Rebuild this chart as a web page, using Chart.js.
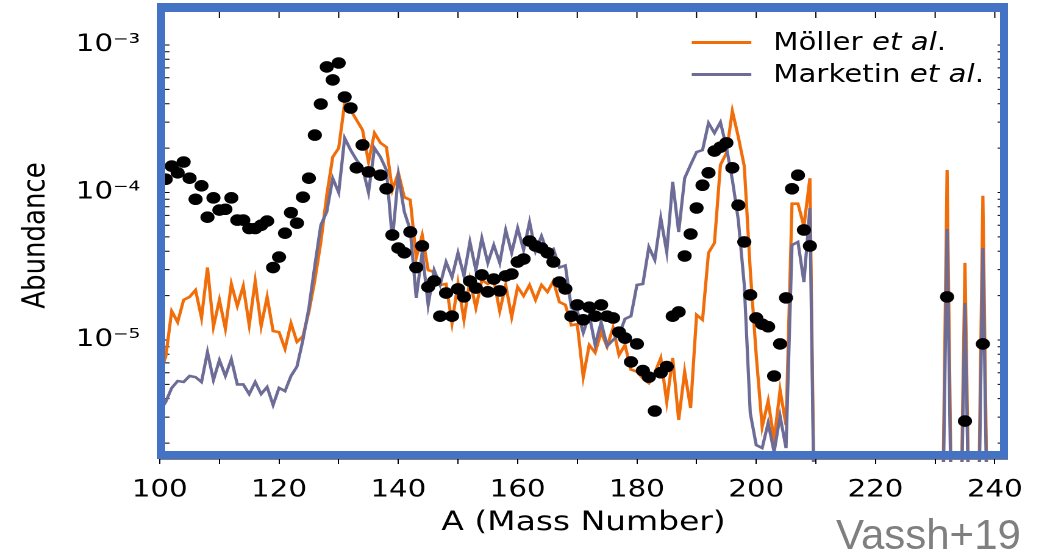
<!DOCTYPE html>
<html>
<head>
<meta charset="utf-8">
<script src="https://cdn.jsdelivr.net/npm/chart.js@4.4.1/dist/chart.umd.min.js"></script>
<style>
  html, body { margin: 0; padding: 0; background: #fff; }
  #page { position: relative; width: 1050px; height: 557px; overflow: hidden; }
  /* the original figure is a bit wider than tall, so the whole plot is stretched sideways */
  #stage { position: absolute; left: 0; top: 0; width: 861px; height: 557px; transform: scaleX(1.2195); transform-origin: 0 0; }
  #legend { position: absolute; left: 567px; top: 26px; font-family: 'DejaVu Sans', sans-serif; font-size: 24px; color: #000; }
  .row { display: flex; align-items: center; height: 32px; white-space: nowrap; }
  .sw { display: inline-block; width: 49px; height: 3px; margin-right: 18px; }
  #frame { position: absolute; left: 157px; top: 3px; width: 851px; height: 456px; box-sizing: border-box; border: 8px solid #4472c4; border-top-width: 9px; }
  #credit { position: absolute; left: 836px; top: 514px; font-family: 'Liberation Sans', sans-serif; font-size: 42px; line-height: 42px; color: #7f7f7f; }
</style>
</head>
<body>
<div id="page">
  <div id="stage">
    <canvas id="abundanceChart" width="861" height="557"></canvas>
    <div id="legend">
      <div class="row"><span class="sw" style="background:#f06d0a"></span><span>Möller <i>et al</i>.</span></div>
      <div class="row"><span class="sw" style="background:#6c6c96"></span><span>Marketin <i>et al</i>.</span></div>
    </div>
  </div>
  <div id="frame"></div>
  <div id="credit">Vassh+19</div>
</div>
<script>
// model curves: one value per mass number starting at A = 100 (0 = nothing made)
const modelStartA = 100;
const mollerAbund = [
  6.0e-6, 7.7e-6, 1.57e-5, 1.32e-5, 1.87e-5, 1.96e-5, 2.18e-5, 1.41e-5, 3.1e-5, 1.23e-5,
  1.87e-5, 1.19e-5, 2.4e-5, 1.7e-5, 2.32e-5, 1.26e-5, 2.51e-5, 1.24e-5, 1.96e-5, 1.15e-5,
  1.13e-5, 8.7e-6, 1.3e-5, 9.7e-6, 1.06e-5, 1.55e-5, 2.55e-5, 4.6e-5, 9.6e-5, 1.74e-4,
  2.0e-4, 4.04e-4, 3.62e-4, 3.1e-4, 2.65e-4, 1.61e-4, 2.53e-4, 2.17e-4, 2.03e-4, 1.04e-4,
  1.36e-4, 9.3e-5, 8.9e-5, 3.6e-5, 5.15e-5, 2.98e-5, 2.89e-5, 2.36e-5, 2.4e-5, 1.3e-5,
  2.43e-5, 1.37e-5, 2.55e-5, 1.65e-5, 2.55e-5, 2.4e-5, 2.55e-5, 1.57e-5, 2.36e-5, 1.43e-5,
  2.29e-5, 1.99e-5, 2.36e-5, 1.87e-5, 2.36e-5, 2.12e-5, 2.51e-5, 1.81e-5, 1.73e-5, 1.26e-5,
  1.28e-5, 5.6e-6, 9.25e-6, 8.2e-6, 1.13e-5, 9.0e-6, 1.21e-5, 7.9e-6, 9.25e-6, 6.3e-6,
  6.1e-6, 5.5e-6, 5.1e-6, 6.0e-6, 7.55e-6, 3.8e-6, 7.55e-6, 2.87e-6, 6.1e-6, 3.46e-6,
  1.48e-5, 1.37e-5, 3.9e-5, 4.55e-5, 1.54e-4, 1.85e-4, 3.57e-4, 2.38e-4, 1.51e-4, 2.98e-5,
  7.9e-6, 2.57e-6, 3.86e-6, 2.1e-6, 4.58e-6, 2.65e-6, 8.4e-5, 8.4e-5, 5.9e-5, 1.25e-4,
  0, 0, 0, 0, 0, 0, 0, 0, 0, 0,
  0, 0, 0, 0, 0, 0, 0, 0, 0, 0,
  0, 0, 1.42e-4, 0, 0, 3.33e-5, 0, 0, 9.5e-5, 0,
  0
];
const marketinAbund = [
  3.3e-6, 3.8e-6, 4.73e-6, 5.27e-6, 5.19e-6, 5.7e-6, 5.6e-6, 5.19e-6, 8.3e-6, 5.35e-6,
  7.3e-6, 5.7e-6, 7.4e-6, 5.0e-6, 5.0e-6, 4.3e-6, 5.19e-6, 4.3e-6, 4.8e-6, 3.62e-6,
  4.73e-6, 4.5e-6, 5.7e-6, 6.6e-6, 1.0e-5, 1.65e-5, 3.2e-5, 6.0e-5, 7.4e-5, 1.25e-4,
  1.0e-4, 2.34e-4, 1.94e-4, 1.66e-4, 1.47e-4, 1.0e-4, 2.0e-4, 1.74e-4, 1.42e-4, 4.76e-5,
  1.31e-4, 7.4e-5, 5.57e-5, 1.93e-5, 3.95e-5, 1.73e-5, 2.98e-5, 2.36e-5, 3.38e-5, 2.67e-5,
  3.9e-5, 2.72e-5, 4.62e-5, 2.98e-5, 4.9e-5, 3.33e-5, 4.4e-5, 3.33e-5, 5.57e-5, 3.9e-5,
  5.74e-5, 4.08e-5, 6.3e-5, 4.0e-5, 5.07e-5, 3.9e-5, 4.14e-5, 3.1e-5, 3.2e-5, 1.65e-5,
  1.57e-5, 1.12e-5, 1.48e-5, 9.25e-6, 1.32e-5, 9.1e-6, 1.0e-5, 1.08e-5, 1.39e-5, 1.45e-5,
  2.36e-5, 2.4e-5, 4.27e-5, 3.49e-5, 6.7e-5, 3.95e-5, 1.18e-4, 5.4e-5, 1.25e-4, 1.54e-4,
  1.88e-4, 1.94e-4, 2.96e-4, 2.53e-4, 3.0e-4, 2.03e-4, 1.22e-4, 6.5e-5, 2.36e-5, 3.2e-6,
  1.94e-6, 1.85e-6, 2.74e-6, 1.74e-6, 3.05e-6, 1.85e-6, 4.4e-5, 4.62e-5, 2.47e-5, 7.85e-5,
  0, 0, 0, 0, 0, 0, 0, 0, 0, 0,
  0, 0, 0, 0, 0, 0, 0, 0, 0, 0,
  0, 0, 5.66e-5, 0, 0, 1.78e-5, 0, 0, 4.2e-5, 0,
  0
];

// solar r-process points, A = 101 ... 209 (null = no point), plus the actinides
const solarStartA = 101;
const solarAbund = [
  1.23e-4, 1.51e-4, 1.36e-4, 1.61e-4, 1.25e-4, 9.0e-5, 1.11e-4, 6.8e-5, 9.2e-5, 7.6e-5,
  7.7e-5, 9.2e-5, 6.5e-5, 6.5e-5, 5.7e-5, 5.7e-5, 6.0e-5, 6.4e-5, 3.1e-5, 3.65e-5,
  5.3e-5, 7.3e-5, 6.2e-5, 9.3e-5, 1.25e-4, 2.45e-4, 3.98e-4, 7.1e-4, 5.8e-4, 7.55e-4,
  4.44e-4, 3.74e-4, 1.47e-4, 2.1e-4, 1.38e-4, null, 1.31e-4, 1.06e-4, 5.15e-5, 4.2e-5,
  3.9e-5, 5.4e-5, 3.1e-5, 4.34e-5, 2.29e-5, 2.51e-5, 1.45e-5, 2.08e-5, 1.45e-5, 2.22e-5,
  1.96e-5, 2.51e-5, 2.25e-5, 2.76e-5, 2.12e-5, 2.59e-5, 2.15e-5, 2.72e-5, 2.8e-5, 3.38e-5,
  3.54e-5, 4.69e-5, 4.34e-5, 4.2e-5, 3.9e-5, 3.38e-5, 2.47e-5, 2.22e-5, 1.45e-5, 1.73e-5,
  1.37e-5, 1.67e-5, 1.45e-5, 1.73e-5, 1.45e-5, 1.41e-5, 1.13e-5, 1.03e-5, 7.1e-6, 9.4e-6,
  6.2e-6, 5.6e-6, 3.3e-6, 6.0e-6, 6.6e-6, 1.45e-5, 1.55e-5, 3.71e-5, 5.23e-5, 7.85e-5,
  1.12e-4, 1.36e-4, 1.91e-4, 2.03e-4, 2.17e-4, 1.47e-4, 8.2e-5, 4.62e-5, 2.02e-5, 1.41e-5,
  1.28e-5, 1.23e-5, 5.7e-6, 9.4e-6, 1.93e-5, 1.06e-4, 1.31e-4, 5.57e-5, 4.34e-5
];
const actinideA = [232, 235, 238];
const actinideAbund = [1.96e-5, 2.82e-6, 9.4e-6];

// axes
const xTicks = [100, 110, 120, 130, 140, 150, 160, 170, 180, 190, 200, 210, 220, 230, 240];
const yTicks = [
  2e-6, 3e-6, 4e-6, 5e-6, 6e-6, 7e-6, 8e-6, 9e-6,
  1e-5, 2e-5, 3e-5, 4e-5, 5e-5, 6e-5, 7e-5, 8e-5, 9e-5,
  1e-4, 2e-4, 3e-4, 4e-4, 5e-4, 6e-4, 7e-4, 8e-4, 9e-4, 1e-3
];
const ZERO_FLOOR = 1e-7; // zeros can't sit on a log axis, push them below the frame

const SUP = { '-': '\u207b', '0': '\u2070', '1': '\u00b9', '2': '\u00b2', '3': '\u00b3',
  '4': '\u2074', '5': '\u2075', '6': '\u2076', '7': '\u2077', '8': '\u2078', '9': '\u2079' };

function modelPoints(vals) {
  return vals.map((v, i) => ({ x: modelStartA + i, y: v > 0 ? v : ZERO_FLOOR }));
}
const solarPoints = solarAbund
  .map((v, i) => ({ x: solarStartA + i, y: v }))
  .filter(p => p.y !== null)
  .concat(actinideA.map((a, i) => ({ x: a, y: actinideAbund[i] })));

// inward ticks on left, right and top like the matplotlib frame
const innerTicks = {
  id: 'innerTicks',
  beforeDatasetsDraw(chart) {
    const { ctx, chartArea: a, scales: { x, y } } = chart;
    ctx.save();
    ctx.strokeStyle = '#000';
    ctx.lineWidth = 1;
    ctx.beginPath();
    yTicks.forEach(v => {
      const py = y.getPixelForValue(v);
      ctx.moveTo(a.left, py); ctx.lineTo(a.left + 8, py);
      ctx.moveTo(a.right, py); ctx.lineTo(a.right - 8, py);
    });
    xTicks.forEach(v => {
      const px = x.getPixelForValue(v);
      ctx.moveTo(px, a.top); ctx.lineTo(px, a.top + 6);
    });
    ctx.stroke();
    ctx.restore();
  }
};

Chart.defaults.font.family = "'DejaVu Sans', sans-serif";
Chart.defaults.color = '#000';

const lineClip = { left: 0, top: 0, right: 0, bottom: 3 };

new Chart(document.getElementById('abundanceChart'), {
  type: 'line',
  data: {
    datasets: [
      {
        label: 'Solar r-process',
        data: solarPoints,
        showLine: false,
        pointRadius: 5.8,
        pointBorderWidth: 0,
        pointBackgroundColor: '#000',
        clip: false
      },
      {
        label: 'Marketin et al.',
        data: modelPoints(marketinAbund),
        borderColor: '#6c6c96',
        borderWidth: 2.6,
        pointRadius: 0,
        tension: 0,
        clip: lineClip
      },
      {
        label: 'Möller et al.',
        data: modelPoints(mollerAbund),
        borderColor: '#f06d0a',
        borderWidth: 2.6,
        pointRadius: 0,
        tension: 0,
        clip: lineClip
      }
    ]
  },
  plugins: [innerTicks],
  options: {
    responsive: false,
    devicePixelRatio: 2,
    animation: false,
    events: [],
    layout: { padding: { top: 12, right: 35, left: 0, bottom: 0 } },
    plugins: { legend: { display: false }, tooltip: { enabled: false } },
    scales: {
      x: {
        type: 'linear',
        min: 100,
        max: 242.1,
        afterFit: s => { s.height = 98; s.paddingLeft = 0; s.paddingRight = 0; },
        afterBuildTicks: s => { s.ticks = xTicks.map(v => ({ value: v })); },
        grid: { display: true, drawOnChartArea: false, drawTicks: true, tickLength: 5, color: '#000' },
        border: { display: true, color: '#000', width: 1 },
        ticks: {
          autoSkip: false,
          maxRotation: 0,
          padding: 12,
          font: { size: 24 },
          callback: v => (v % 20 === 0 ? String(v) : '')
        },
        title: { display: true, text: 'A (Mass Number)', font: { size: 27 }, padding: { top: 0, bottom: 18 } }
      },
      y: {
        type: 'logarithmic',
        min: 1.56e-6,
        max: 1.674e-3,
        afterFit: s => { s.width = 131; s.paddingTop = 0; s.paddingBottom = 0; },
        afterBuildTicks: s => { s.ticks = yTicks.map(v => ({ value: v })); },
        grid: { display: false, drawTicks: false },
        border: { display: false },
        ticks: {
          autoSkip: false,
          padding: 16,
          font: { size: 24 },
          callback: v => {
            const e = Math.log10(v);
            if (Math.abs(e - Math.round(e)) > 1e-6) return '';
            return '10' + String(Math.round(e)).split('').map(c => SUP[c]).join('');
          }
        },
        title: { display: true, text: 'Abundance', font: { size: 26 }, padding: { top: 14, bottom: 0 } }
      }
    }
  }
});
</script>
</body>
</html>
